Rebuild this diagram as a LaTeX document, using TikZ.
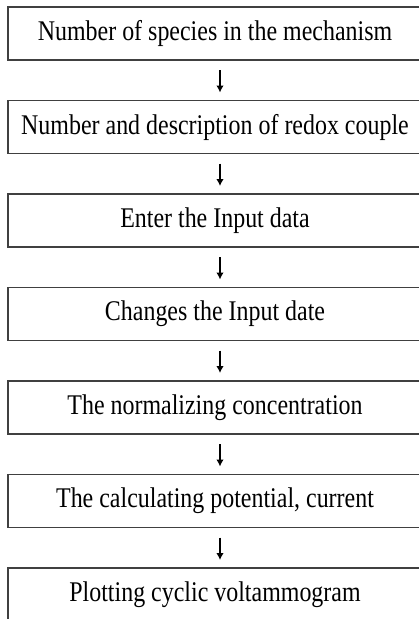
\documentclass[tikz,border=0pt]{standalone}
\usepackage{fontspec}
\setmainfont{Liberation Serif}
\newfontfamily\boxfont[FakeStretch=0.84]{Liberation Serif}
\usetikzlibrary{positioning,arrows.meta}

\begin{document}
\begin{tikzpicture}[
    x=1pt, y=1pt,
    stepbox/.style={draw=black!75, line width=1.2pt, minimum width=414pt,
      minimum height=53pt, inner sep=0pt, outer sep=0pt,
      font=\boxfont\fontsize{28.5}{32}\selectfont},
    flow/.style={-{Latex[length=7pt,width=7.5pt]}, line width=1.3pt},
    node distance=40.5pt
    ]
  \useasboundingbox (0,0) rectangle (419,-619);
  % the steps, top to bottom
  \node [stepbox, anchor=north west] (species) at (8,-7) {Number of species in the mechanism};
  \node [stepbox, below=of species] (redox) {Number and description of redox couple};
  \node [stepbox, below=of redox] (input) {Enter the Input data};
  \node [stepbox, below=of input] (change) {Changes the Input date};
  \node [stepbox, below=of change] (norm) {The normalizing concentration};
  \node [stepbox, below=of norm] (calc) {The calculating potential, current};
  \node [stepbox, below=of calc] (plot) {Plotting cyclic voltammogram};
  % short arrows in the gaps
  \foreach \a/\b in {species/redox, redox/input, input/change, change/norm, norm/calc, calc/plot}
    \draw [flow] ([xshift=5pt,yshift=-10pt]\a.south) -- ([xshift=5pt,yshift=8pt]\b.north);
\end{tikzpicture}
\end{document}
